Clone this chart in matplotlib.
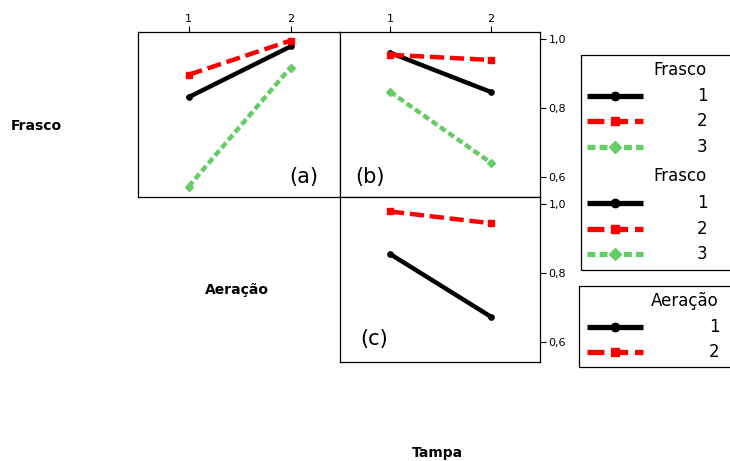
import matplotlib
matplotlib.use("Agg")
import matplotlib.pyplot as plt
from matplotlib.patches import Rectangle

# ---- data ----
levels = [1, 2]
frasco_levels = ["1", "2", "3"]
aeracao_levels = ["1", "2"]
# (a) x = Aeração, lines = Frasco
a_frasco1 = [0.832, 0.979]
a_frasco2 = [0.897, 0.996]
a_frasco3 = [0.573, 0.918]
# (b) x = Tampa, lines = Frasco
b_frasco1 = [0.961, 0.847]
b_frasco2 = [0.955, 0.940]
b_frasco3 = [0.848, 0.642]
# (c) x = Tampa, lines = Aeração
c_aer1 = [0.856, 0.674]
c_aer2 = [0.979, 0.945]
yticks = [0.6, 0.8, 1.0]
ytick_labels = ["0,6", "0,8", "1,0"]

W, H = 730, 461
fig = plt.figure(figsize=(W / 100, H / 100), dpi=100)
plt.rcParams['font.family'] = ['DejaVu Sans']

GREEN = "#66CC66"
styles = [
    dict(color="black", ls="-", marker="o"),
    dict(color="#FF0000", ls=(0, (3.2, 1.3)), marker="s"),
    dict(color=GREEN, ls=(0, (1.5, 0.8)), marker="D"),
]


def pax(x0, y0, x1, y1):
    return fig.add_axes([x0 / W, 1 - y1 / H, (x1 - x0) / W, (y1 - y0) / H])


def draw(ax, series):
    for s, st in zip(series, styles):
        ax.plot(levels, s, color=st["color"], linestyle=st["ls"], lw=3.2,
                marker=st["marker"], ms=3.8, dash_capstyle="butt",
                solid_capstyle="round")
    ax.set_xlim(0.505, 2.485)
    ax.set_ylim(0.543, 1.021)
    for sp in ax.spines.values():
        sp.set_linewidth(0.9)


ax_a = pax(138, 32, 340, 197)
draw(ax_a, [a_frasco1, a_frasco2, a_frasco3])
ax_b = pax(340, 32, 540, 197)
draw(ax_b, [b_frasco1, b_frasco2, b_frasco3])
ax_c = pax(340, 197, 540, 362)
draw(ax_c, [c_aer1, c_aer2])

for ax in (ax_a, ax_b):
    ax.xaxis.tick_top()
    ax.set_xticks(levels)
    ax.set_xticklabels([str(v) for v in levels], fontsize=8)
    ax.tick_params(axis="x", length=4, width=0.8, pad=2)
ax_c.set_xticks([])
ax_a.set_yticks([])
for ax in (ax_b, ax_c):
    ax.yaxis.tick_right()
    ax.set_yticks(yticks)
    ax.set_yticklabels(ytick_labels, fontsize=8)
    ax.tick_params(axis="y", length=4, width=0.8, pad=2)

ax_a.text(0.82, 0.12, "(a)", transform=ax_a.transAxes, fontsize=15, ha="center", va="center")
ax_b.text(0.15, 0.12, "(b)", transform=ax_b.transAxes, fontsize=15, ha="center", va="center")
ax_c.text(0.17, 0.14, "(c)", transform=ax_c.transAxes, fontsize=15, ha="center", va="center")

# overlay in pixel coordinates for labels and legends
ov = fig.add_axes([0, 0, 1, 1], zorder=-1)
ov.set_xlim(0, W)
ov.set_ylim(H, 0)
ov.axis("off")

ov.text(36, 126, "Frasco", fontsize=10, fontweight="bold", ha="center", va="center")
ov.text(237, 290, "Aeração", fontsize=10, fontweight="bold", ha="center", va="center")
ov.text(437, 453, "Tampa", fontsize=10, fontweight="bold", ha="center", va="center")

ov.add_patch(Rectangle((581, 55), 160, 215, fill=False, lw=0.9, ec="black", clip_on=False))
ov.add_patch(Rectangle((579, 286), 160, 81, fill=False, lw=0.9, ec="black", clip_on=False))


def leg_entry(y, st, label, lx):
    ov.plot([587, 643], [y, y], color=st["color"], linestyle=st["ls"], lw=3.8,
            dash_capstyle="butt", solid_capstyle="butt")
    ov.plot([615], [y], color=st["color"], marker=st["marker"], ms=6 if st["marker"] != "s" else 5.5,
            linestyle="none")
    ov.text(lx, y, label, fontsize=12, ha="center", va="center")


ov.text(680, 70, "Frasco", fontsize=12, ha="center", va="center")
for y, st, lab in zip([96, 121, 147], styles, frasco_levels):
    leg_entry(y, st, lab, 702)
ov.text(680, 176, "Frasco", fontsize=12, ha="center", va="center")
for y, st, lab in zip([203, 229, 254], styles, frasco_levels):
    leg_entry(y, st, lab, 702)
ov.text(685, 301, "Aeração", fontsize=12, ha="center", va="center")
for y, st, lab in zip([327, 352], styles, aeracao_levels):
    leg_entry(y, st, lab, 714)

fig.savefig("out.png", dpi=100)
